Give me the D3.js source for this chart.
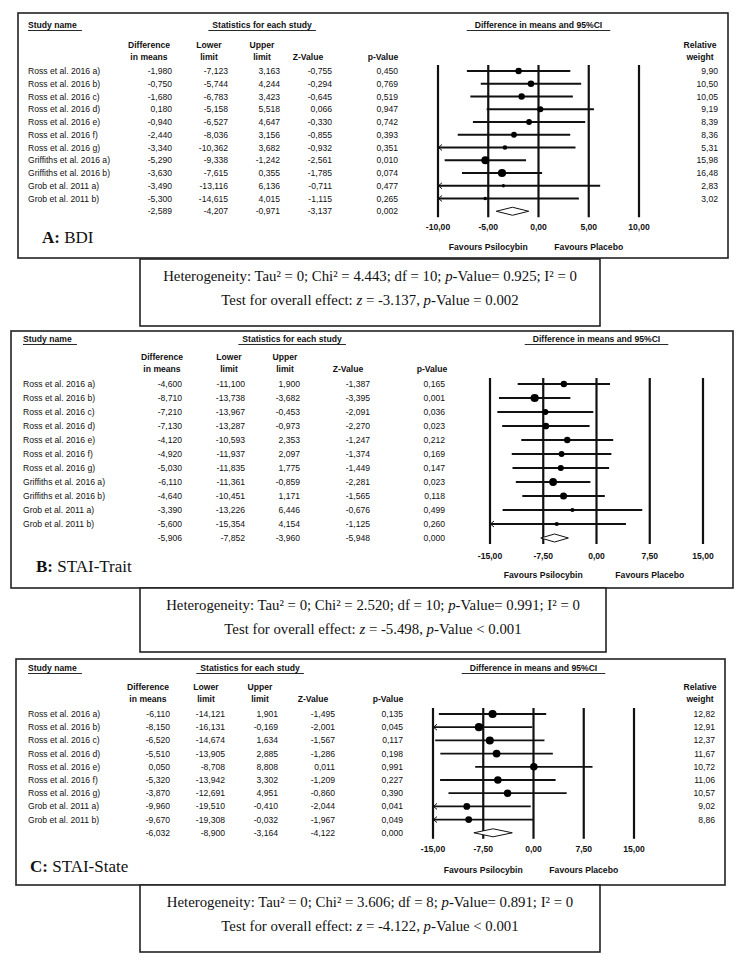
<!DOCTYPE html>
<meta charset="utf-8">
<script src="https://d3js.org/d3.v7.min.js"></script>
<style>
  body { margin: 0; background: #fff; }
  svg text { font-family: "Liberation Sans", Arial, sans-serif; fill: #111; }
  svg text.serif { font-family: "Liberation Serif", "Times New Roman", serif; }
</style>
<div id="chart"></div>
<script>
// ---------- data ----------
const studiesAB = ["Ross et al. 2016 a)", "Ross et al. 2016 b)", "Ross et al. 2016 c)", "Ross et al. 2016 d)",
  "Ross et al. 2016 e)", "Ross et al. 2016 f)", "Ross et al. 2016 g)", "Griffiths et al. 2016 a)",
  "Griffiths et al. 2016 b)", "Grob et al. 2011 a)", "Grob et al. 2011 b)"];
const studiesC = ["Ross et al. 2016 a)", "Ross et al. 2016 b)", "Ross et al. 2016 c)", "Ross et al. 2016 d)",
  "Ross et al. 2016 e)", "Ross et al. 2016 f)", "Ross et al. 2016 g)", "Grob et al. 2011 a)", "Grob et al. 2011 b)"];

// A: BDI
const diffA  = [-1.980, -0.750, -1.680, 0.180, -0.940, -2.440, -3.340, -5.290, -3.630, -3.490, -5.300];
const lowerA = [-7.123, -5.744, -6.783, -5.158, -6.527, -8.036, -10.362, -9.338, -7.615, -13.116, -14.615];
const upperA = [3.163, 4.244, 3.423, 5.518, 4.647, 3.156, 3.682, -1.242, 0.355, 6.136, 4.015];
const zA     = [-0.755, -0.294, -0.645, 0.066, -0.330, -0.855, -0.932, -2.561, -1.785, -0.711, -1.115];
const pA     = [0.450, 0.769, 0.519, 0.947, 0.742, 0.393, 0.351, 0.010, 0.074, 0.477, 0.265];
const weightA = [9.90, 10.50, 10.05, 9.19, 8.39, 8.36, 5.31, 15.98, 16.48, 2.83, 3.02];
const overallA = [-2.589, -4.207, -0.971, -3.137, 0.002];

// B: STAI-Trait (no weight column; marker sizes)
const diffB  = [-4.600, -8.710, -7.210, -7.130, -4.120, -4.920, -5.030, -6.110, -4.640, -3.390, -5.600];
const lowerB = [-11.100, -13.738, -13.967, -13.287, -10.593, -11.937, -11.835, -11.361, -10.451, -13.226, -15.354];
const upperB = [1.900, -3.682, -0.453, -0.973, 2.353, 2.097, 1.775, -0.859, 1.171, 6.446, 4.154];
const zB     = [-1.387, -3.395, -2.091, -2.270, -1.247, -1.374, -1.449, -2.281, -1.565, -0.676, -1.125];
const pB     = [0.165, 0.001, 0.036, 0.023, 0.212, 0.169, 0.147, 0.023, 0.118, 0.499, 0.260];
const markerB = [9.0, 15.0, 8.3, 10.0, 9.0, 7.7, 8.2, 13.7, 11.2, 3.9, 4.0];
const overallB = [-5.906, -7.852, -3.960, -5.948, 0.000];

// C: STAI-State
const diffC  = [-6.110, -8.150, -6.520, -5.510, 0.050, -5.320, -3.870, -9.960, -9.670];
const lowerC = [-14.121, -16.131, -14.674, -13.905, -8.708, -13.942, -12.691, -19.510, -19.308];
const upperC = [1.901, -0.169, 1.634, 2.885, 8.808, 3.302, 4.951, -0.410, -0.032];
const zC     = [-1.495, -2.001, -1.567, -1.286, 0.011, -1.209, -0.860, -2.044, -1.967];
const pC     = [0.135, 0.045, 0.117, 0.198, 0.991, 0.227, 0.390, 0.041, 0.049];
const weightC = [12.82, 12.91, 12.37, 11.67, 10.72, 11.06, 10.57, 9.02, 8.86];
const overallC = [-6.032, -8.900, -3.164, -4.122, 0.000];

const ticksA = [-10, -5, 0, 5, 10];
const ticksBC = [-15, -7.5, 0, 7.5, 15];

const colHeads = [["Difference", "in means"], ["Lower", "limit"], ["Upper", "limit"], ["", "Z-Value"], ["", "p-Value"]];
const panelLetters = ["A:", "B:", "C:"];
const panelNames = ["BDI", "STAI-Trait", "STAI-State"];

// heterogeneity / overall effect text
const hetChi = ["4.443", "2.520", "3.606"];
const hetDf = ["10", "10", "8"];
const hetP = ["0.925", "0.991", "0.891"];
const overallZ = ["-3.137", "-5.498", "-4.122"];
const overallP = ["= 0.002", "< 0.001", "< 0.001"];

// ---------- drawing ----------
const W = 745, H = 960;
const svg = d3.select("#chart").append("svg").attr("width", W).attr("height", H);

const fmt = f => v => d3.format(f)(v).replace("−", "-").replace(".", ",");
const f3 = fmt(".3f"), f2 = fmt(".2f");
const FS = 8.6;

const panels = [
  { names: studiesAB, diff: diffA, lower: lowerA, upper: upperA, z: zA, p: pA, w: weightA, showW: true,
    overall: overallA, ticks: ticksA,
    L: { box: [18, 13, 728, 258], titleY: 28, headY: [45, 57], row0: 71, step: 12.75, nameX: 28,
         cols: [172, 228, 280, 332, 398], heads: [149, 209, 262, 308, 383], statsX: 262,
         range: [438, 639], lineTop: 65, tickY: 227, favY: 247, wX: 718, wHeadX: 700,
         label: [42, 243] } },
  { names: studiesAB, diff: diffB, lower: lowerB, upper: upperB, z: zB, p: pB, w: markerB, showW: false,
    overall: overallB, ticks: ticksBC,
    L: { box: [11, 331, 733, 588], titleY: 342, headY: [357, 369], row0: 384, step: 14, nameX: 23,
         cols: [182, 245, 300, 370, 445], heads: [162, 229, 285, 348, 432], statsX: 292,
         range: [490, 703], lineTop: 378, tickY: 556, favY: 575,
         label: [36, 572] } },
  { names: studiesC, diff: diffC, lower: lowerC, upper: upperC, z: zC, p: pC, w: weightC, showW: true,
    overall: overallC, ticks: ticksBC,
    L: { box: [16, 659, 725, 885], titleY: 671, headY: [687, 699], row0: 714, step: 13.2, nameX: 28,
         cols: [170, 225, 278, 335, 403], heads: [148, 206, 260, 313, 388], statsX: 250,
         range: [433, 634], lineTop: 708, tickY: 849, favY: 870, wX: 715, wHeadX: 700,
         label: [30, 872] } }
];

const hetBoxes = [[140, 259, 600, 326], [140, 588, 606, 652], [140, 885, 600, 952]];

function underlined(g, x, y, txt, anchor, extra) {
  const t = g.append("text").attr("x", x).attr("y", y).attr("text-anchor", anchor)
    .attr("font-size", FS).attr("font-weight", "bold").text(txt);
  const b = t.node().getBBox();
  g.append("line").attr("x1", b.x - extra[0]).attr("x2", b.x + b.width + extra[1])
    .attr("y1", y + 2.5).attr("y2", y + 2.5).attr("stroke", "#111").attr("stroke-width", 0.9);
}

panels.forEach((P, k) => {
  const L = P.L;
  const g = svg.append("g");
  const [bx0, by0, bx1, by1] = L.box;
  g.append("rect").attr("x", bx0).attr("y", by0).attr("width", bx1 - bx0).attr("height", by1 - by0)
    .attr("fill", "none").attr("stroke", "#222").attr("stroke-width", 1.6);

  const x = d3.scaleLinear().domain(d3.extent(P.ticks)).range(L.range);
  const n = P.names.length;
  const rowY = i => L.row0 + i * L.step;
  const r = d3.scaleSqrt().domain([0, d3.max(P.w)]).range([0, 4.1]);

  // titles
  underlined(g, L.nameX, L.titleY, "Study name", "start", [0, 5]);
  underlined(g, L.statsX, L.titleY, "Statistics for each study", "middle", [4, 4]);
  underlined(g, x(0), L.titleY, "Difference in means and 95%CI", "middle", [8, 8]);

  // column headers
  colHeads.forEach((h, j) => {
    h.forEach((s, li) => {
      if (!s) return;
      g.append("text").attr("x", L.heads[j]).attr("y", L.headY[li]).attr("dy", "0.35em")
        .attr("text-anchor", "middle").attr("font-size", FS).attr("font-weight", "bold").text(s);
    });
  });
  if (P.showW) {
    ["Relative", "weight"].forEach((s, li) => {
      g.append("text").attr("x", L.wHeadX).attr("y", L.headY[li]).attr("dy", "0.35em")
        .attr("text-anchor", "middle").attr("font-size", FS).attr("font-weight", "bold").text(s);
    });
  }

  // table rows
  const rows = P.names.map((name, i) => ({ name, vals: [P.diff[i], P.lower[i], P.upper[i], P.z[i], P.p[i]], w: P.w[i], i }));
  rows.push({ name: "", vals: P.overall, i: n });
  rows.forEach(d => {
    const y = rowY(d.i);
    g.append("text").attr("x", L.nameX).attr("y", y).attr("dy", "0.35em").attr("font-size", FS).text(d.name);
    d.vals.forEach((v, j) => {
      g.append("text").attr("x", L.cols[j]).attr("y", y).attr("dy", "0.35em")
        .attr("text-anchor", "end").attr("font-size", FS).text(f3(v));
    });
    if (P.showW && d.i < n) {
      g.append("text").attr("x", L.wX).attr("y", y).attr("dy", "0.35em")
        .attr("text-anchor", "end").attr("font-size", FS).text(f2(d.w));
    }
  });

  // vertical reference lines
  const lineBot = rowY(n) + 6;
  g.selectAll(".vl").data(P.ticks).join("line")
    .attr("x1", d => x(d)).attr("x2", d => x(d)).attr("y1", L.lineTop).attr("y2", lineBot)
    .attr("stroke", "#111").attr("stroke-width", 2.2);

  // tick labels
  g.selectAll(".tl").data(P.ticks).join("text")
    .attr("x", d => x(d)).attr("y", L.tickY).attr("dy", "0.35em").attr("text-anchor", "middle")
    .attr("font-size", FS).attr("font-weight", "bold").text(d => f2(d));

  // favours
  g.append("text").attr("x", x(P.ticks[1])).attr("y", L.favY).attr("dy", "0.35em").attr("text-anchor", "middle")
    .attr("font-size", FS).attr("font-weight", "bold").text("Favours Psilocybin");
  g.append("text").attr("x", x(P.ticks[3])).attr("y", L.favY).attr("dy", "0.35em").attr("text-anchor", "middle")
    .attr("font-size", FS).attr("font-weight", "bold").text("Favours Placebo");

  // CI lines, arrows, markers
  const [d0, d1] = x.domain();
  rows.slice(0, n).forEach(d => {
    const y = rowY(d.i);
    const lo = Math.max(d.vals[1], d0), hi = Math.min(d.vals[2], d1);
    g.append("line").attr("x1", x(lo)).attr("x2", x(hi)).attr("y1", y).attr("y2", y)
      .attr("stroke", "#111").attr("stroke-width", 1.8);
    if (d.vals[1] < d0) {
      const ax = x(d0);
      g.append("polyline").attr("points", `${ax + 4},${y - 3} ${ax + 0.5},${y} ${ax + 4},${y + 3}`)
        .attr("fill", "none").attr("stroke", "#111").attr("stroke-width", 1);
    }
    if (d.vals[2] > d1) {
      const ax = x(d1);
      g.append("polyline").attr("points", `${ax - 4},${y - 3} ${ax - 0.5},${y} ${ax - 4},${y + 3}`)
        .attr("fill", "none").attr("stroke", "#111").attr("stroke-width", 1);
    }
    g.append("circle").attr("cx", x(d.vals[0])).attr("cy", y).attr("r", r(d.w)).attr("fill", "#000");
  });

  // summary diamond
  const ys = rowY(n), o = P.overall;
  g.append("polygon")
    .attr("points", [[x(o[1]), ys], [x(o[0]), ys - 4], [x(o[2]), ys], [x(o[0]), ys + 4]].map(p => p.join(",")).join(" "))
    .attr("fill", "#fff").attr("stroke", "#111").attr("stroke-width", 1);

  // panel label
  const lab = g.append("text").attr("class", "serif").attr("x", L.label[0]).attr("y", L.label[1]).attr("font-size", 17);
  lab.append("tspan").attr("font-weight", "bold").text(panelLetters[k]);
  lab.append("tspan").text(" " + panelNames[k]);

  // heterogeneity box
  const [hx0, hy0, hx1, hy1] = hetBoxes[k];
  svg.append("rect").attr("x", hx0).attr("y", hy0).attr("width", hx1 - hx0).attr("height", hy1 - hy0)
    .attr("fill", "#fff").attr("stroke", "#222").attr("stroke-width", 1.6);
  const cx = (hx0 + hx1) / 2;
  const t1 = svg.append("text").attr("class", "serif").attr("x", cx).attr("y", hy0 + 22)
    .attr("text-anchor", "middle").attr("font-size", 14.8);
  t1.append("tspan").text(`Heterogeneity: Tau\u00B2 = 0; Chi\u00B2 = ${hetChi[k]}; df = ${hetDf[k]}; `);
  t1.append("tspan").attr("font-style", "italic").text("p");
  t1.append("tspan").text(`-Value= ${hetP[k]}; I\u00B2 = 0`);
  const t2 = svg.append("text").attr("class", "serif").attr("x", cx).attr("y", hy0 + 46)
    .attr("text-anchor", "middle").attr("font-size", 14.8);
  t2.append("tspan").text("Test for overall effect: ");
  t2.append("tspan").attr("font-style", "italic").text("z");
  t2.append("tspan").text(` = ${overallZ[k]}, `);
  t2.append("tspan").attr("font-style", "italic").text("p");
  t2.append("tspan").text(`-Value ${overallP[k]}`);
});
</script>
